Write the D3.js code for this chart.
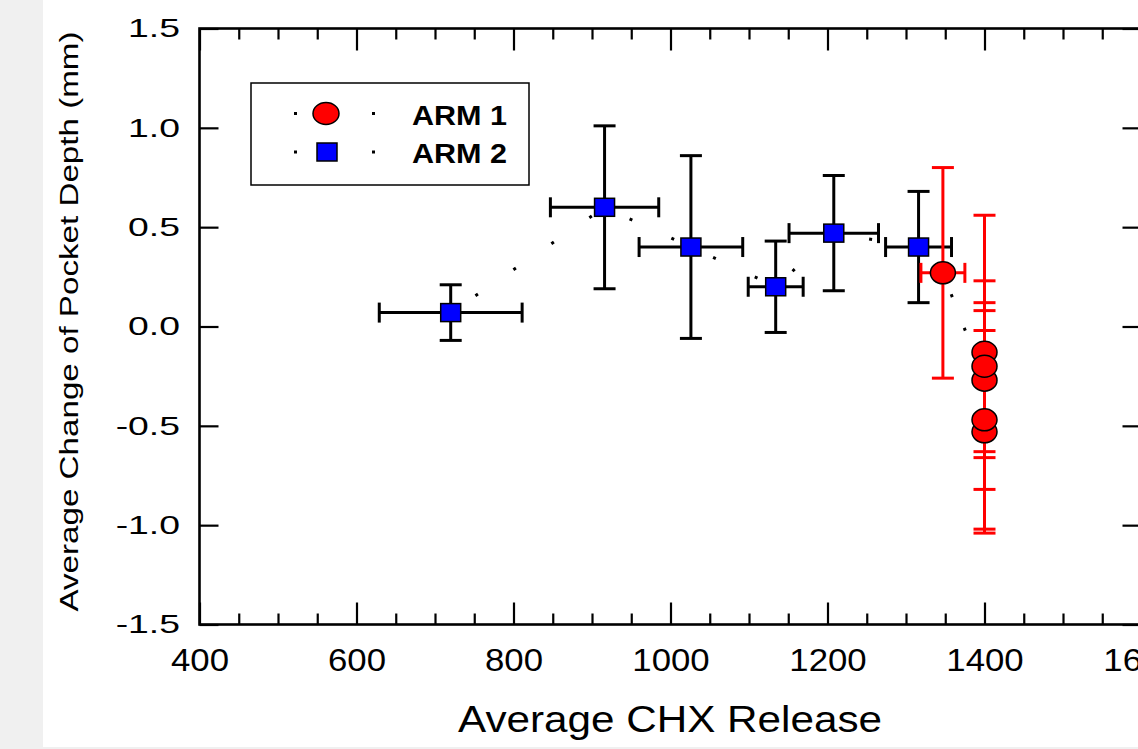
<!DOCTYPE html>
<html>
<head>
<meta charset="utf-8">
<script src="https://cdn.jsdelivr.net/npm/d3@7"></script>
<style>
  body { margin: 0; background: #f0f0f0; }
  svg { display: block; }
</style>
</head>
<body>
<svg id="chart"></svg>
<script>
// ARM 2 (blue squares)
const arm2X = [720, 916, 1026, 1134, 1208, 1316];
const arm2Y = [0.07, 0.60, 0.40, 0.20, 0.47, 0.40];
const arm2XErr = [91, 69, 66, 35, 57, 42];
const arm2YErr = [0.14, 0.41, 0.46, 0.23, 0.29, 0.28];

// ARM 1 (red circles)
const arm1X = [1347, 1400, 1400, 1400, 1400, 1400];
const arm1Y = [0.27, -0.27, -0.13, -0.53, -0.20, -0.47];
const arm1XErr = [28, 0, 0, 0, 0, 0];
const arm1YErr = [0.53, 0.39, 0.69, 0.51, 0.43, 0.55];

const xMajor = [400, 600, 800, 1000, 1200, 1400, 1600];
const xMinor = d3.range(450, 1600, 50).filter(v => v % 200 !== 0);
const yMajor = [-1.5, -1.0, -0.5, 0.0, 0.5, 1.0, 1.5];

const seriesNames = ["ARM 1", "ARM 2"];

const width = 1138, height = 749;

const x = d3.scaleLinear().domain([400, 1600]).range([199.5, 1141.5]);
const y = d3.scaleLinear().domain([-1.5, 1.5]).range([624.5, 28.5]);

const svg = d3.select("#chart")
    .attr("width", width)
    .attr("height", height)
    .attr("font-family", "'Liberation Sans', Arial, sans-serif");

// white page area, grey strip on the left and bottom stays from body
svg.append("rect")
    .attr("x", 43).attr("y", 0)
    .attr("width", width - 43).attr("height", 747)
    .attr("fill", "white");

function pts(xs, ys, xe, ye) {
    return xs.map((v, i) => ({ x: v, y: ys[i], xe: xe[i], ye: ye[i] }));
}
const arm1 = pts(arm1X, arm1Y, arm1XErr, arm1YErr);
const arm2 = pts(arm2X, arm2Y, arm2XErr, arm2YErr);

// axes
function styleAxis(g) {
    g.select(".domain").remove();
    g.selectAll(".tick line").attr("stroke", "black").attr("stroke-width", 2.2);
}

svg.append("g")
    .attr("transform", `translate(0,${y(-1.5)})`)
    .call(d3.axisBottom(x).tickValues(xMinor).tickSize(-11).tickFormat(""))
    .call(styleAxis);

const xAxis = svg.append("g")
    .attr("transform", `translate(0,${y(-1.5)})`)
    .call(d3.axisBottom(x).tickValues(xMajor).tickSize(-22).tickPadding(25).tickFormat(d => d))
    .call(styleAxis);
xAxis.attr("font-family", null).attr("font-size", null);
xAxis.selectAll("text")
    .attr("fill", "black")
    .attr("font-size", 30.5)
    .attr("transform", "scale(1.14,1)");

svg.append("g")
    .attr("transform", `translate(0,${y(1.5)})`)
    .call(d3.axisTop(x).tickValues(xMinor).tickSize(-11).tickFormat(""))
    .call(styleAxis);
svg.append("g")
    .attr("transform", `translate(0,${y(1.5)})`)
    .call(d3.axisTop(x).tickValues(xMajor).tickSize(-22).tickFormat(""))
    .call(styleAxis);

const yAxis = svg.append("g")
    .attr("transform", `translate(${x(400)},0)`)
    .call(d3.axisLeft(y).tickValues(yMajor).tickSize(-19).tickFormat(d => d.toFixed(1)))
    .call(styleAxis);
yAxis.attr("font-family", null).attr("font-size", null);
yAxis.selectAll("text")
    .attr("fill", "black")
    .attr("font-size", 26.5)
    .attr("x", 0)
    .attr("transform", "translate(-19.5,0) scale(1.41,1)");

svg.append("g")
    .attr("transform", `translate(${x(1600)},0)`)
    .call(d3.axisRight(y).tickValues(yMajor).tickSize(-19).tickFormat(""))
    .call(styleAxis);

// frame
svg.append("rect")
    .attr("x", x(400)).attr("y", y(1.5))
    .attr("width", x(1600) - x(400)).attr("height", y(-1.5) - y(1.5))
    .attr("fill", "none").attr("stroke", "black").attr("stroke-width", 2.6);

// axis titles
svg.append("text")
    .attr("x", 670).attr("y", 732)
    .attr("text-anchor", "middle")
    .attr("font-size", 36)
    .attr("textLength", 424)
    .attr("lengthAdjust", "spacingAndGlyphs")
    .text("Average CHX Release");

svg.append("text")
    .attr("transform", "translate(78,321.5) rotate(-90)")
    .attr("text-anchor", "middle")
    .attr("font-size", 25)
    .attr("textLength", 580)
    .attr("lengthAdjust", "spacingAndGlyphs")
    .text("Average Change of Pocket Depth (mm)");

// dotted connecting lines
const line = d3.line().x(d => x(d.x)).y(d => y(d.y));
svg.append("path")
    .datum(arm2)
    .attr("d", line)
    .attr("fill", "none").attr("stroke", "black")
    .attr("stroke-width", 3)
    .attr("stroke-dasharray", "3,43")
    .attr("stroke-dashoffset", -30);
svg.append("path")
    .datum(arm1)
    .attr("d", line)
    .attr("fill", "none").attr("stroke", "black")
    .attr("stroke-width", 3)
    .attr("stroke-dasharray", "3,33")
    .attr("stroke-dashoffset", -23);

// error bars
function errorBars(data, color) {
    const g = svg.append("g").attr("stroke", color).attr("stroke-width", 3).attr("fill", "none");
    data.forEach(d => {
        const cx = x(d.x), cy = y(d.y);
        if (d.ye > 0) {
            const y0 = y(d.y + d.ye), y1 = y(d.y - d.ye);
            g.append("line").attr("x1", cx).attr("x2", cx).attr("y1", y0).attr("y2", y1);
            g.append("line").attr("x1", cx - 11).attr("x2", cx + 11).attr("y1", y0).attr("y2", y0);
            g.append("line").attr("x1", cx - 11).attr("x2", cx + 11).attr("y1", y1).attr("y2", y1);
        }
        if (d.xe > 0) {
            const x0 = x(d.x - d.xe), x1 = x(d.x + d.xe);
            g.append("line").attr("x1", x0).attr("x2", x1).attr("y1", cy).attr("y2", cy);
            g.append("line").attr("x1", x0).attr("x2", x0).attr("y1", cy - 10).attr("y2", cy + 10);
            g.append("line").attr("x1", x1).attr("x2", x1).attr("y1", cy - 10).attr("y2", cy + 10);
        }
    });
}
errorBars(arm2, "black");
errorBars(arm1, "#ff0000");

// markers
svg.append("g").selectAll("rect")
    .data(arm2)
    .join("rect")
    .attr("x", d => x(d.x) - 10)
    .attr("y", d => y(d.y) - 9)
    .attr("width", 20).attr("height", 18)
    .attr("fill", "#0000ff").attr("stroke", "black").attr("stroke-width", 1.5);

svg.append("g").selectAll("ellipse")
    .data(arm1)
    .join("ellipse")
    .attr("cx", d => x(d.x))
    .attr("cy", d => y(d.y))
    .attr("rx", 12.5).attr("ry", 11)
    .attr("fill", "#ff0000").attr("stroke", "black").attr("stroke-width", 1.5);

// legend
const legend = svg.append("g");
legend.append("rect")
    .attr("x", 251).attr("y", 83)
    .attr("width", 278).attr("height", 102)
    .attr("fill", "white").attr("stroke", "black").attr("stroke-width", 1.5);

const rowY = [113.5, 152];
seriesNames.forEach((name, i) => {
    legend.append("line")
        .attr("x1", 294).attr("x2", 375)
        .attr("y1", rowY[i]).attr("y2", rowY[i])
        .attr("stroke", "black").attr("stroke-width", 3)
        .attr("stroke-dasharray", "3,75");
    if (i === 0) {
        legend.append("ellipse")
            .attr("cx", 326).attr("cy", rowY[i])
            .attr("rx", 13).attr("ry", 11)
            .attr("fill", "#ff0000").attr("stroke", "black").attr("stroke-width", 1.5);
    } else {
        legend.append("rect")
            .attr("x", 317).attr("y", rowY[i] - 9)
            .attr("width", 20).attr("height", 18)
            .attr("fill", "#0000ff").attr("stroke", "black").attr("stroke-width", 1.5);
    }
    legend.append("text")
        .attr("x", 412).attr("y", rowY[i] + 11)
        .attr("font-size", 27)
        .attr("font-weight", "bold")
        .attr("textLength", 95)
        .attr("lengthAdjust", "spacingAndGlyphs")
        .text(name);
});
</script>
</body>
</html>
